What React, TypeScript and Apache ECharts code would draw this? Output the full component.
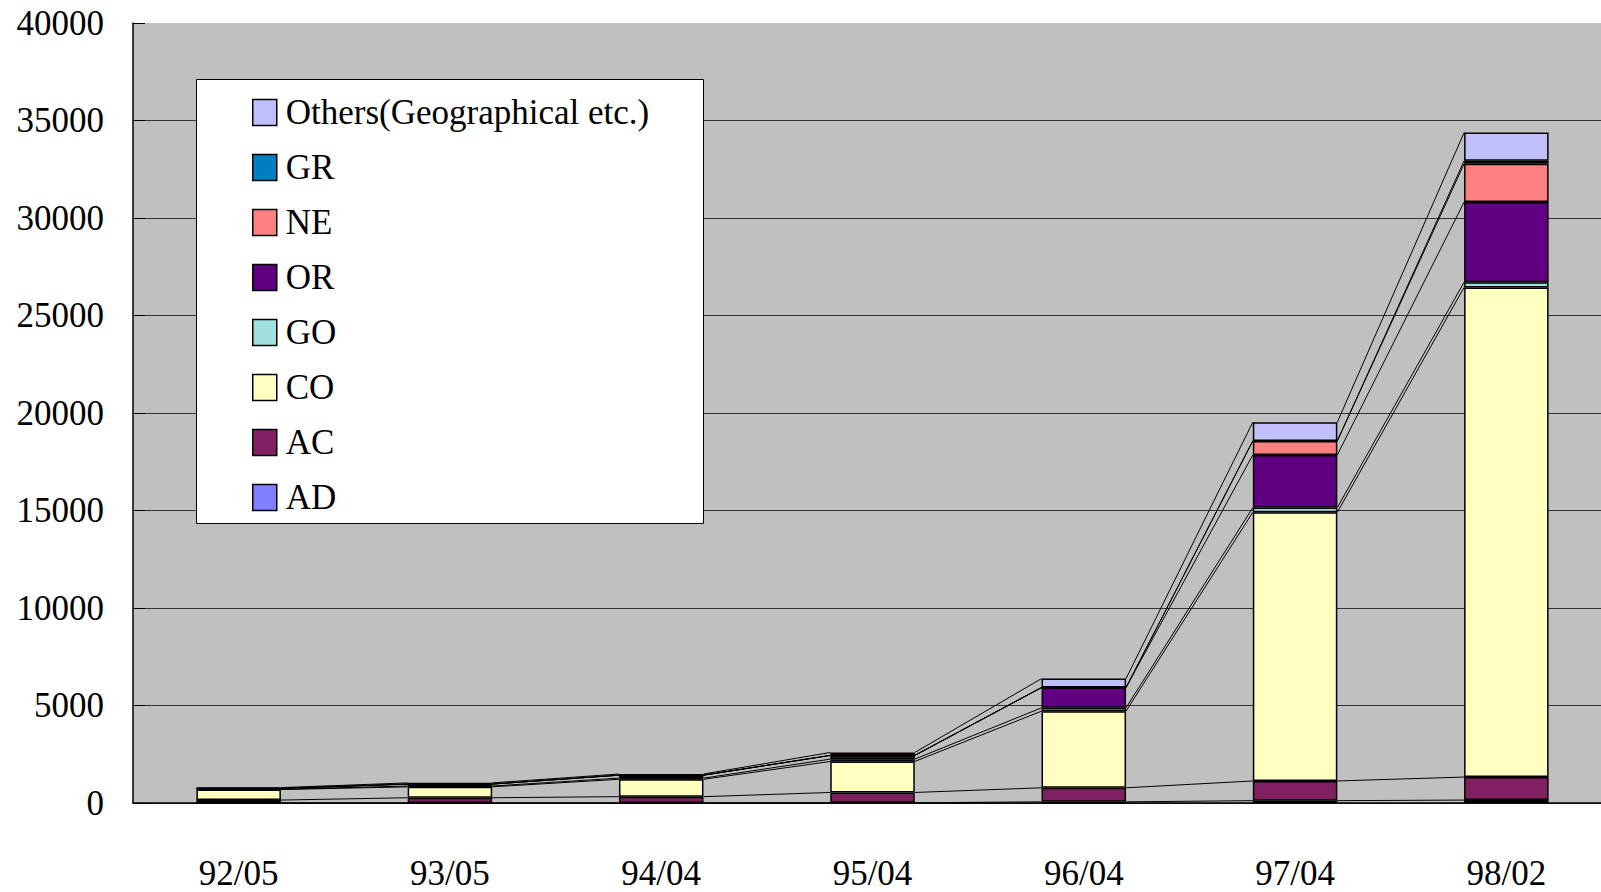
import React, { useEffect, useRef } from 'react';
import * as echarts from 'echarts';

const categories = ['92/05', '93/05', '94/04', '95/04', '96/04', '97/04', '98/02'];
const AD = [0, 0, 0, 10, 60, 120, 150];
const AC = [150, 270, 325, 530, 720, 1010, 1180];
const CO = [540, 560, 890, 1590, 3930, 13780, 25110];
const GO = [20, 40, 60, 120, 170, 240, 270];
const OR = [40, 100, 150, 190, 1040, 2700, 4110];
const NE = [0, 0, 0, 0, 0, 720, 1960];
const GR = [0, 0, 0, 0, 0, 0, 150];
const OTHERS = [40, 60, 60, 150, 460, 960, 1450];

const seriesNames = ['AD', 'AC', 'CO', 'GO', 'OR', 'NE', 'GR', 'Others(Geographical etc.)'];
const seriesColors = ['#8080FF', '#802060', '#FFFFC0', '#A0E0E0', '#600080', '#FF8080', '#0080C0', '#C0C0FF'];

const FONT = 'Liberation Serif';
const BAR_RATIO = 0.4;

export default function App() {
  const ref = useRef<HTMLDivElement>(null);
  useEffect(() => {
    document.body.style.margin = '0';
    const chart = echarts.init(ref.current!, null, { renderer: 'svg' });
    const values = [AD, AC, CO, GO, OR, NE, GR, OTHERS];
    const cum: number[][] = [];
    values.forEach((arr, k) => {
      cum.push(arr.map((v, i) => v + (k > 0 ? cum[k - 1][i] : 0)));
    });

    const barSeries = values.map((arr, k) => ({
      type: 'bar',
      name: seriesNames[k],
      stack: 'total',
      data: arr,
      barWidth: BAR_RATIO * 100 + '%',
      itemStyle: { color: seriesColors[k], borderColor: '#000', borderWidth: 1.5 },
      z: 2,
    }));

    const linkSeries = {
      type: 'custom',
      silent: true,
      z: 3,
      encode: { x: 0, y: 1 },
      data: categories.slice(0, -1).map((_, i) => [i, 0]),
      renderItem: (params: any, api: any) => {
        const i = api.value(0) as number;
        const band = api.size([1, 0])[0];
        const half = (band * BAR_RATIO) / 2;
        const children = cum.map((c) => {
          const p1 = api.coord([i, c[i]]);
          const p2 = api.coord([i + 1, c[i + 1]]);
          return {
            type: 'line',
            shape: { x1: p1[0] + half, y1: p1[1], x2: p2[0] - half, y2: p2[1] },
            style: { stroke: '#000', lineWidth: 1 },
          };
        });
        return { type: 'group', children };
      },
    };

    chart.setOption({
      animation: false,
      textStyle: { fontFamily: FONT },
      grid: {
        left: 133,
        right: -11,
        top: 23,
        bottom: 89,
        outerBoundsMode: 'none',
        containLabel: false,
        show: true,
        backgroundColor: '#C0C0C0',
        borderWidth: 0,
      },
      graphic: [
        {
          type: 'rect',
          left: 196,
          top: 79,
          z: 5,
          shape: { width: 507, height: 444 },
          style: { fill: '#fff', stroke: '#000', lineWidth: 1 },
        },
      ],
      legend: {
        orient: 'vertical',
        left: 252,
        top: 95,
        padding: 0,
        z: 10,
        icon: 'rect',
        itemWidth: 24,
        itemHeight: 26,
        itemGap: 20,
        selectedMode: false,
        data: [...seriesNames].reverse(),
        itemStyle: { borderColor: '#000', borderWidth: 1.5 },
        textStyle: { fontFamily: FONT, fontSize: 35, color: '#000', padding: [0, 0, 0, 4] },
      },
      xAxis: {
        type: 'category',
        data: categories,
        boundaryGap: true,
        axisLine: { lineStyle: { color: '#000', width: 1.5 } },
        axisTick: { inside: true, length: 13, lineStyle: { color: '#000' } },
        axisLabel: { fontFamily: FONT, fontSize: 35, color: '#000', margin: 53 },
      },
      yAxis: {
        type: 'value',
        min: 0,
        max: 40000,
        interval: 5000,
        axisLine: { show: true, lineStyle: { color: '#000', width: 1.5 } },
        axisTick: { show: true, inside: true, length: 12, lineStyle: { color: '#000' } },
        splitLine: { show: true, showMaxLine: false, lineStyle: { color: '#333', width: 1 } },
        axisLabel: {
          fontFamily: FONT,
          fontSize: 35,
          color: '#000',
          margin: 29,
          formatter: (v: number) => String(v),
        },
      },
      series: [...barSeries, linkSeries],
    });
    return () => chart.dispose();
  }, []);
  return <div ref={ref} style={{ width: 1601, height: 892 }} />;
}
